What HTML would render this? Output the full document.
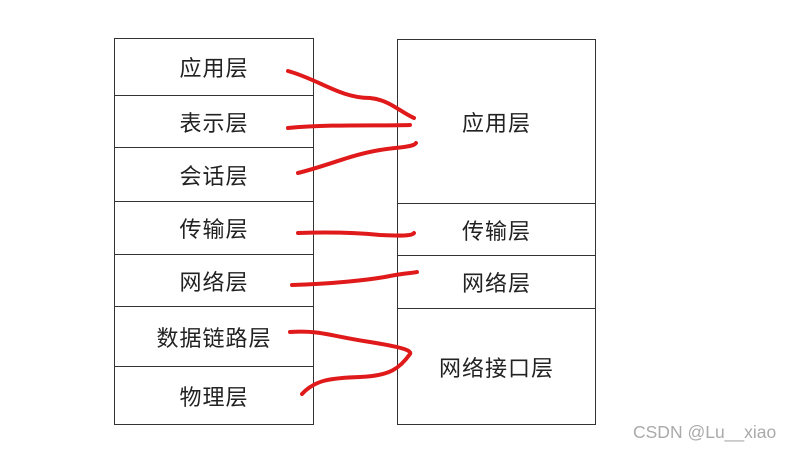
<!DOCTYPE html>
<html><head><meta charset="utf-8"><style>
body{margin:0;width:796px;height:452px;background:#fff;overflow:hidden;position:relative;font-family:"Liberation Sans","Noto Sans CJK SC",sans-serif}
.b{position:absolute;border:1.5px solid #333;box-sizing:border-box;display:flex;align-items:center;justify-content:center;font-size:22px;color:#222;letter-spacing:1px}
.wm{position:absolute;left:633px;top:422px;font-size:17.5px;color:#aaa}
svg{position:absolute;left:0;top:0}
</style></head><body>
<div class="b" style="left:114px;top:38px;width:200px;height:58px">应用层</div>
<div class="b" style="left:114px;top:95px;width:200px;height:53px">表示层</div>
<div class="b" style="left:114px;top:147px;width:200px;height:55px">会话层</div>
<div class="b" style="left:114px;top:201px;width:200px;height:54px">传输层</div>
<div class="b" style="left:114px;top:254px;width:200px;height:53px">网络层</div>
<div class="b" style="left:114px;top:306px;width:200px;height:61px">数据链路层</div>
<div class="b" style="left:114px;top:366px;width:200px;height:59px">物理层</div>
<div class="b" style="left:397px;top:39px;width:199px;height:165px">应用层</div>
<div class="b" style="left:397px;top:203px;width:199px;height:53px">传输层</div>
<div class="b" style="left:397px;top:255px;width:199px;height:54px">网络层</div>
<div class="b" style="left:397px;top:308px;width:199px;height:117px">网络接口层</div>
<svg width="796" height="452"><g fill="none" stroke="#e01a1a" stroke-width="4" stroke-linecap="round">
<path d="M288,71 C320,80 340,98 370,98 C390,100 400,112 414,118"/>
<path d="M288,128 C330,124 380,126 410,125"/>
<path d="M298,173 C330,165 350,155 380,150 C400,147 414,147 416,143"/>
<path d="M298,233 C330,232 360,233 380,235 C400,236 412,236 414,233"/>
<path d="M292,285 C330,284 370,280 390,276 C405,273 414,273 417,272"/>
<path d="M290,332 C320,330 330,336 370,342 C400,347 412,350 410,354 C400,368 390,376 360,377 C330,378 315,380 302,394"/>
</g></svg>
<div class="wm">CSDN @Lu__xiao</div>
</body></html>
